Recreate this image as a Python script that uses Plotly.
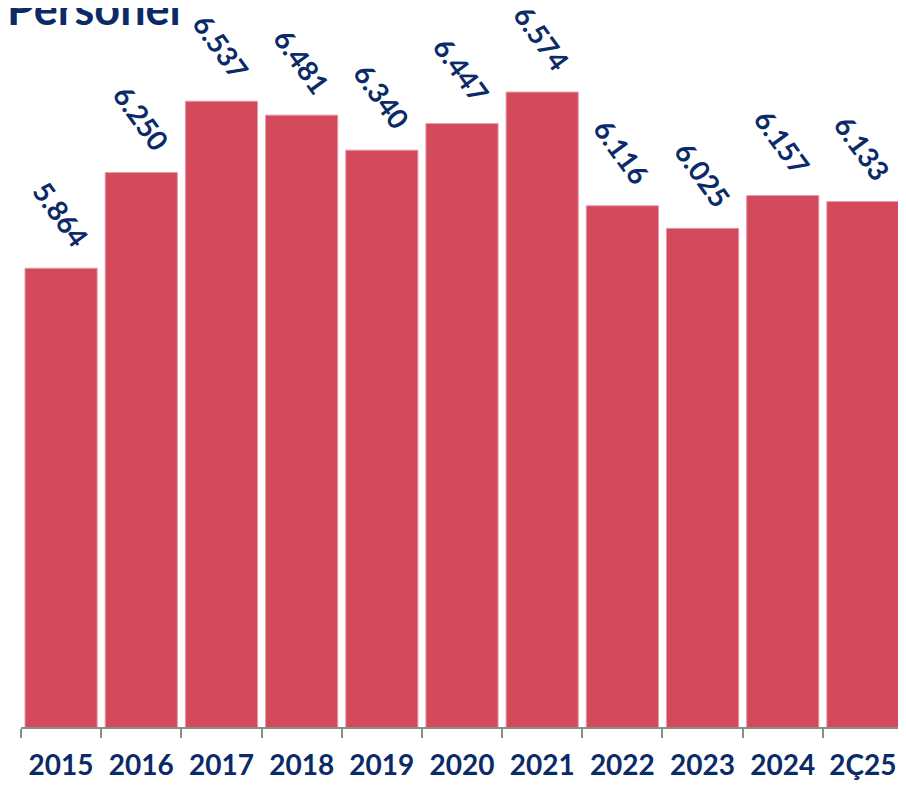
import plotly.graph_objects as go

categories = ["2015", "2016", "2017", "2018", "2019", "2020", "2021", "2022", "2023", "2024", "2Ç25"]
values = [5864, 6250, 6537, 6481, 6340, 6447, 6574, 6116, 6025, 6157, 6133]
title_text = "Personel"

NAVY = "#0B2B68"
BAR = "#D34A5C"
FONT = "Lato"

labels = [f"{v:,}".replace(",", ".") for v in values]

fig = go.Figure()
fig.add_trace(go.Bar(
    x=categories, y=values,
    marker=dict(color=BAR, line=dict(color="#E59AA5", width=1)),
    hoverinfo="skip",
))

for i, (v, t) in enumerate(zip(values, labels)):
    fig.add_annotation(
        x=i, y=v, xref="x", yref="y", text=t, showarrow=False,
        textangle=54, xanchor="center", yanchor="middle", yshift=54,
        font=dict(family=FONT, size=28, color=NAVY, weight="bold"),
    )

fig.add_annotation(
    xref="paper", yref="paper", x=-0.018, y=1.0, xanchor="left", yanchor="bottom",
    text=f"<b>{title_text}</b>", showarrow=False, yshift=-7,
    font=dict(family=FONT, size=45, color=NAVY),
)

# page has an 8px body margin: compensate so the plot lands where the reference has it
fig.update_layout(
    width=906, height=785,
    margin=dict(l=13, r=11, t=22, b=66),
    paper_bgcolor="white", plot_bgcolor="white",
    bargap=0.1, showlegend=False,
    font=dict(family=FONT),
)
fig.update_xaxes(
    type="category", range=[-0.5, len(categories) - 0.5], autorange=False,
    showline=True, linecolor="#8C8C8C", linewidth=2,
    ticks="outside", tickson="boundaries", ticklen=9, tickwidth=2, tickcolor="#8C8C8C",
    tickfont=dict(family=FONT, size=28, color=NAVY, weight="bold"), tickangle=0,
    ticklabelstandoff=12, automargin=False,
    showgrid=False, zeroline=False,
)
fig.update_yaxes(
    range=[4016, 6824], autorange=False, visible=False, showgrid=False, zeroline=False,
)

fig.write_html("out.html")
